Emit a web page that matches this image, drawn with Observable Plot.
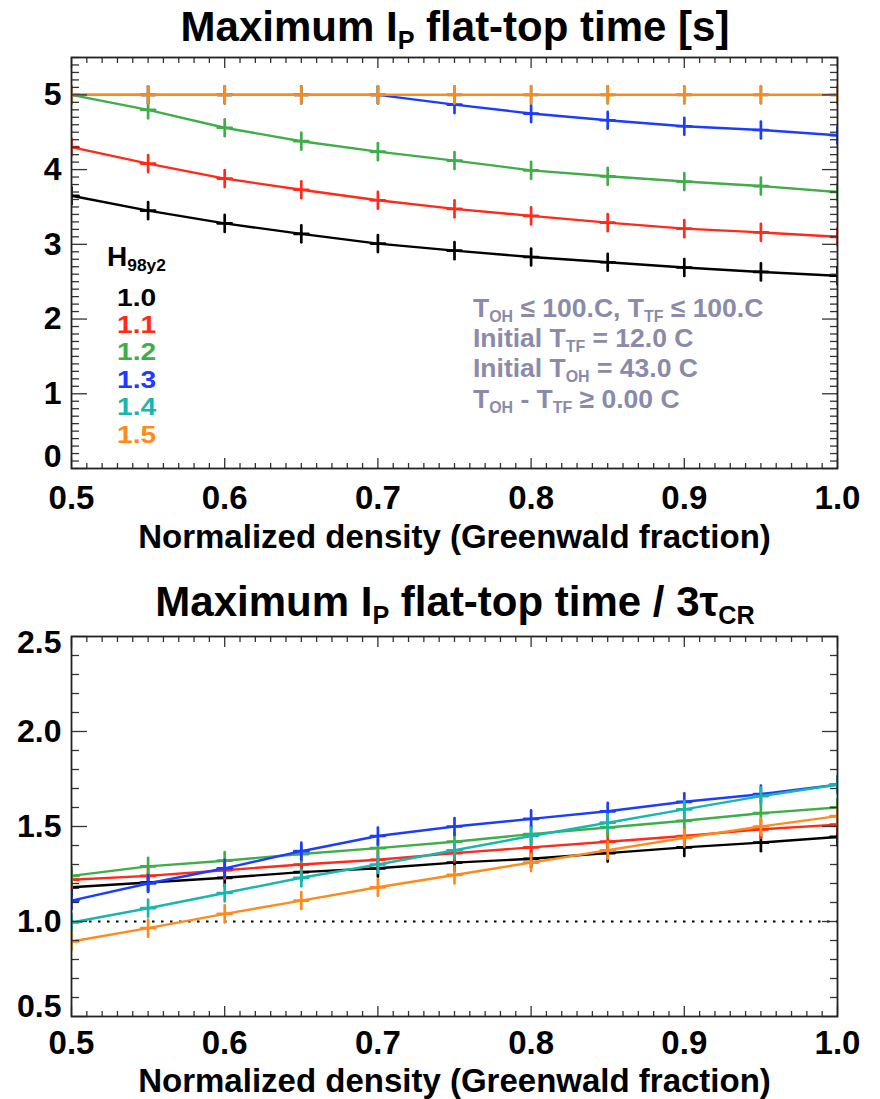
<!DOCTYPE html>
<html><head><meta charset="utf-8">
<script src="https://cdn.jsdelivr.net/npm/d3@7"></script>
<script src="https://cdn.jsdelivr.net/npm/@observablehq/plot@0.6"></script>
<style>
body{margin:0;background:#fff;}
#wrap{position:relative;width:880px;height:1099px;overflow:hidden;font-family:"Liberation Sans",Arial,sans-serif;font-weight:bold;}
#wrap svg{position:absolute;left:0;}
.t{position:absolute;white-space:nowrap;}
.sub{font-size:0.6em;vertical-align:-0.33em;line-height:0;}
</style></head><body><div id="wrap"></div>
<script>
// ---------------- data ----------------
const density = [0.5, 0.55, 0.6, 0.65, 0.7, 0.75, 0.8, 0.85, 0.9, 0.95, 1.0];
const hLabels = ["1.0", "1.1", "1.2", "1.3", "1.4", "1.5"];
const hColors = ["#000000", "#ff2a1a", "#3fae48", "#1c3cff", "#18b6ae", "#ff8a1c"];

// Maximum Ip flat-top time [s]
const flat10 = [3.65, 3.45, 3.28, 3.14, 3.01, 2.915, 2.83, 2.76, 2.69, 2.63, 2.58];
const flat11 = [4.30, 4.08, 3.88, 3.73, 3.59, 3.475, 3.38, 3.29, 3.21, 3.16, 3.10];
const flat12 = [5.00, 4.80, 4.56, 4.38, 4.24, 4.12, 3.99, 3.91, 3.84, 3.78, 3.70];
const flat13 = [5.00, 5.00, 5.00, 5.00, 5.00, 4.87, 4.75, 4.66, 4.58, 4.53, 4.46];
const flat14 = [5.00, 5.00, 5.00, 5.00, 5.00, 5.00, 5.00, 5.00, 5.00, 5.00, 5.00];
const flat15 = [5.00, 5.00, 5.00, 5.00, 5.00, 5.00, 5.00, 5.00, 5.00, 5.00, 5.00];

// Maximum Ip flat-top time / 3 tau_CR
const ratio10 = [1.18, 1.205, 1.23, 1.26, 1.28, 1.31, 1.33, 1.36, 1.39, 1.415, 1.445];
const ratio11 = [1.22, 1.24, 1.27, 1.30, 1.325, 1.36, 1.39, 1.42, 1.45, 1.485, 1.51];
const ratio12 = [1.24, 1.29, 1.32, 1.355, 1.386, 1.42, 1.46, 1.495, 1.53, 1.57, 1.60];
const ratio13 = [1.11, 1.20, 1.28, 1.37, 1.45, 1.50, 1.54, 1.58, 1.63, 1.67, 1.72];
const ratio14 = [0.995, 1.07, 1.15, 1.23, 1.30, 1.375, 1.45, 1.52, 1.59, 1.66, 1.72];
const ratio15 = [0.895, 0.965, 1.04, 1.11, 1.18, 1.245, 1.31, 1.375, 1.44, 1.50, 1.555];

const xMajorTicks = [0.5, 0.6, 0.7, 0.8, 0.9, 1.0];
const topYMajor = [0, 1, 2, 3, 4, 5];
const botYMajor = [0.5, 1.0, 1.5, 2.0, 2.5];
const xLabel = "Normalized density (Greenwald fraction)";

// ---------------- helpers ----------------
const wrap = document.getElementById("wrap");
const vbar = {draw(ctx, l) { ctx.moveTo(0, 0); ctx.lineTo(0, -l); }};

function rowsOf(vals, h) { return density.map((x, j) => ({x, y: vals[j], h})); }

function panel({series, yDomain, yMajor, yMinor, yFmt, firstDy, lastDy, refLine, tickPad, labelDy, top, height, marginTop, marginBottom}) {
  const xMinor = d3.range(50, 101).map(d => d / 100).filter(d => Math.round(d * 100) % 10 !== 0);
  const tk = {stroke: "#333", strokeWidth: 1.3, label: null, text: null};
  const marks = [];
  if (refLine != null) marks.push(Plot.ruleY([refLine], {stroke: "#000", strokeWidth: 2, strokeDasharray: "2.5,6.5"}));
  series.forEach((vals, i) => {
    const rows = rowsOf(vals, hLabels[i]);
    const c = hColors[i];
    marks.push(Plot.line(rows, {x: "x", y: "y", stroke: c, strokeWidth: 2.4, clip: true}));
    marks.push(Plot.vector(rows, {x: "x", y: "y", length: 17, rotate: 0, anchor: "middle", shape: vbar, stroke: c, strokeWidth: 2.7, clip: true}));
    marks.push(Plot.vector(rows, {x: "x", y: "y", length: 14, rotate: 90, anchor: "middle", shape: vbar, stroke: c, strokeWidth: 2.7, clip: true}));
  });
  // ticks (inward, mirrored on all sides)
  for (const anchor of ["bottom", "top"]) {
    marks.push(Plot.axisX(xMajorTicks, {anchor, tickSize: -10, ...tk}));
    marks.push(Plot.axisX(xMinor, {anchor, tickSize: -5, ...tk}));
  }
  for (const anchor of ["left", "right"]) {
    marks.push(Plot.axisY(yMajor, {anchor, tickSize: -16, ...tk}));
    marks.push(Plot.axisY(yMinor, {anchor, tickSize: -8, ...tk}));
  }
  // tick labels
  const txt = {tickSize: 0, fontWeight: "bold", label: null};
  marks.push(Plot.axisX(xMajorTicks, {anchor: "bottom", tickPadding: tickPad, tickFormat: d3.format(".1f"), fontSize: 33, ...txt}));
  const inner = yMajor.slice(1, -1);
  marks.push(Plot.axisY(inner, {anchor: "left", tickPadding: 10, tickFormat: yFmt, fontSize: 32, ...txt}));
  marks.push(Plot.axisY([yMajor[0]], {anchor: "left", tickPadding: 10, tickFormat: yFmt, fontSize: 32, dy: firstDy, ...txt}));
  marks.push(Plot.axisY([yMajor[yMajor.length - 1]], {anchor: "left", tickPadding: 10, tickFormat: yFmt, fontSize: 32, dy: lastDy, ...txt}));
  marks.push(Plot.text([xLabel], {text: d => d, frameAnchor: "bottom", lineAnchor: "bottom", dy: labelDy, fontSize: 33, fontWeight: "bold", fill: "#000"}));
  marks.push(Plot.frame({stroke: "#222", strokeWidth: 1.8}));

  const svg = Plot.plot({
    width: 880, height, marginLeft: 71, marginRight: 43, marginTop, marginBottom,
    x: {domain: [0.5, 1.0], axis: null, label: null},
    y: {domain: yDomain, axis: null, label: null},
    style: {fontFamily: "'Liberation Sans', Arial, sans-serif", fontWeight: "bold", fontSize: "32px", color: "#000", background: "transparent", overflow: "visible"},
    marks
  });
  svg.style.top = top + "px";
  wrap.appendChild(svg);
}

// place an HTML text by its first baseline; lhPx = line height in px
function label(html, {x, baseline, size, color = "#000", align = "left", lhPx = size, transform = ""}) {
  const d = document.createElement("div");
  d.className = "t";
  d.style.fontSize = size + "px";
  d.style.lineHeight = lhPx + "px";
  d.style.top = (baseline - ((lhPx - 1.117 * size) / 2 + 0.905 * size)) + "px";
  d.style.left = x + "px";
  d.style.color = color;
  d.style.transformOrigin = "left top";
  d.style.transform = (align === "center" ? "translateX(-50%) " : "") + transform;
  d.innerHTML = html;
  wrap.appendChild(d);
}

// ---------------- top panel ----------------
panel({
  series: [flat10, flat11, flat12, flat13, flat14, flat15],
  yDomain: [0, 5.5], yMajor: topYMajor,
  yMinor: d3.range(0, 56).filter(d => d % 10 !== 0).map(d => d / 10),
  yFmt: d => String(d), firstDy: -12, lastDy: 0, tickPad: 17.5, labelDy: 79,
  top: 50, height: 510, marginTop: 7, marginBottom: 92
});
// ---------------- bottom panel ----------------
panel({
  series: [ratio10, ratio11, ratio12, ratio13, ratio14, ratio15],
  yDomain: [0.5, 2.5], yMajor: botYMajor,
  yMinor: d3.range(5, 26).filter(d => d % 5 !== 0).map(d => d / 10),
  yFmt: d3.format(".1f"), firstDy: -10, lastDy: 6, refLine: 1.0, tickPad: 14, labelDy: 75.5,
  top: 626, height: 473, marginTop: 10, marginBottom: 83
});

// ---------------- titles & annotations ----------------
label('Maximum I<span class="sub">P</span> flat-top time [s]', {x: 455, baseline: 42, size: 42, align: "center", lhPx: 36});
label('Maximum I<span class="sub">P</span> flat-top time / 3&tau;<span class="sub">CR</span>', {x: 455, baseline: 617, size: 42, align: "center", lhPx: 36});

label('H<span class="sub" style="font-size:0.62em;vertical-align:-0.3em">98y2</span>', {x: 107, baseline: 267, size: 28, lhPx: 22});
// legend values, one line per H98y2 value
hLabels.forEach((h, i) => label(h, {x: 117, baseline: 306 + i * 27.4, size: 24.5, color: hColors[i], lhPx: 20, transform: "scaleX(1.15)"}));

const noteColor = "#8a8aab";
const notes = [
  'T<span class="sub">OH</span> &le; 100.C, T<span class="sub">TF</span> &le; 100.C',
  'Initial T<span class="sub">TF</span> = 12.0 C',
  'Initial T<span class="sub">OH</span> = 43.0 C',
  'T<span class="sub">OH</span> - T<span class="sub">TF</span> &ge; 0.00 C'
];
notes.forEach((n, i) => label(n, {x: 473, baseline: 317 + i * 30.3, size: 26.5, color: noteColor, lhPx: 24}));
</script></body></html>
